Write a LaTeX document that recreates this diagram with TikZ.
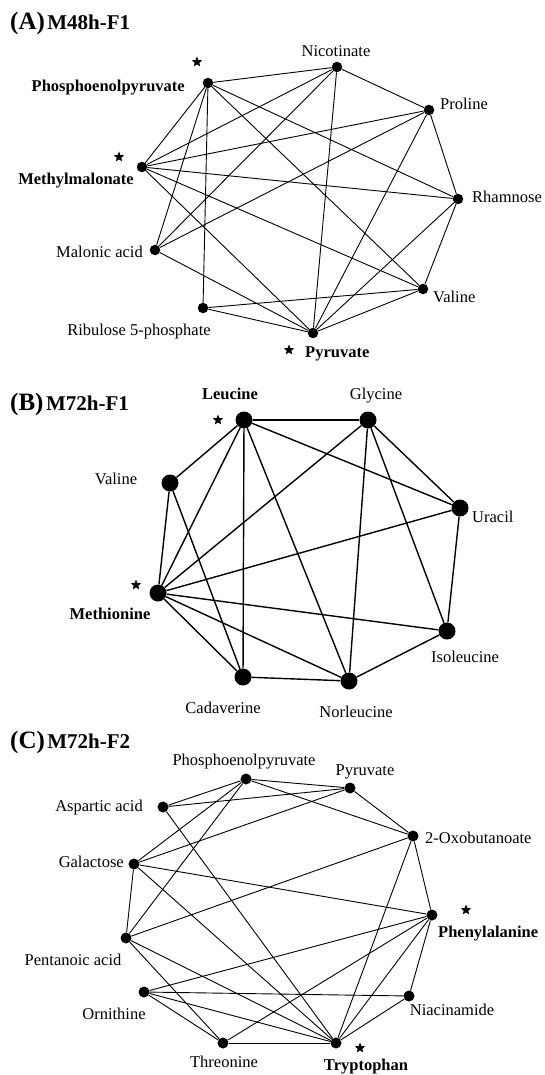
\documentclass[tikz,border=0pt]{standalone}
\usepackage{fontspec}
\setmainfont{Liberation Serif}
\usetikzlibrary{shapes.geometric}
\tikzset{
  dotA/.style={circle,fill=black,draw=none,minimum size=10.5pt,inner sep=0pt},
  dotB/.style={circle,fill=black,draw=none,minimum size=17pt,inner sep=0pt},
  dotC/.style={circle,fill=black,draw=none,minimum size=11pt,inner sep=0pt},
  lab/.style={inner sep=0pt,font=\fontsize{16.5}{18}\selectfont},
  blab/.style={inner sep=0pt,font=\fontsize{16.5}{18}\selectfont\bfseries},
  ttl/.style={inner sep=0pt,anchor=base west,font=\bfseries},
  starmark/.style={star,star points=5,star point ratio=2.3,fill=black,draw=none,minimum size=11pt,inner sep=0pt},
  edgeA/.style={line width=0.9pt},
  edgeB/.style={line width=1.4pt},
  edgeC/.style={line width=0.9pt}
}
\newcommand{\bigp}[1]{{\fontsize{25}{27}\selectfont #1}}
\newcommand{\smallt}[1]{{\fontsize{21}{23}\selectfont #1}}
\begin{document}
\begin{tikzpicture}[x=1pt,y=-1pt]
\useasboundingbox[fill=white] (0,0) rectangle (544,1075);

% ---------------- Panel A ----------------
\node[ttl] (tA) at (10,30) {\bigp{(A)}\kern2.5pt\smallt{M48h-F1}};
\node[dotA] (anic) at (337,67) {};
\node[dotA] (apep) at (208,83) {};
\node[dotA] (apro) at (429,110) {};
\node[dotA] (amm)  at (142,167) {};
\node[dotA] (arha) at (458,199) {};
\node[dotA] (amal) at (155,250) {};
\node[dotA] (aval) at (423,289) {};
\node[dotA] (arib) at (203,308) {};
\node[dotA] (apyr) at (313,333) {};

\node[lab,anchor=base] (lanic) at (336,57) {Nicotinate};
\node[blab,anchor=base east] (lapep) at (185,92) {Phosphoenolpyruvate};
\node[lab,anchor=base west] (lapro) at (440,110) {Proline};
\node[blab,anchor=base east] (lamm) at (134,185) {Methylmalonate};
\node[lab,anchor=base west] (larha) at (472,203) {Rhamnose};
\node[lab,anchor=base east] (lamal) at (143,258) {Malonic acid};
\node[lab,anchor=base west] (laval) at (433,302) {Valine};
\node[lab,anchor=base] (larib) at (139,335) {Ribulose 5-phosphate};
\node[blab,anchor=base west] (lapyr) at (305,357) {Pyruvate};
\node[starmark] (sapep) at (197,62) {};
\node[starmark] (samm) at (119,157) {};
\node[starmark] (sapyr) at (289,350) {};

\foreach \u/\v in {apep/anic, anic/apro, anic/amm, anic/amal, anic/apyr,
  apro/amm, apro/amal, apro/apyr, apro/arha, apep/amm, apep/amal, apep/arib,
  apep/arha, apep/aval, amm/arha, amm/aval, amm/apyr, arha/aval, arha/apyr,
  amal/apyr, aval/arib, aval/apyr, arib/apyr}
  \draw[edgeA] (\u) -- (\v);

% ---------------- Panel B ----------------
\node[ttl] (tB) at (10,410) {\bigp{(B)}\kern2.5pt\smallt{M72h-F1}};
\node[dotB] (bleu) at (244,420) {};
\node[dotB] (bgly) at (368,420) {};
\node[dotB] (bval) at (170,483) {};
\node[dotB] (bura) at (460,508) {};
\node[dotB] (bmet) at (158,593) {};
\node[dotB] (biso) at (447,631) {};
\node[dotB] (bcad) at (243,677) {};
\node[dotB] (bnor) at (349,681) {};

\node[blab,anchor=base] (lbleu) at (230,399) {Leucine};
\node[lab,anchor=base] (lbgly) at (376,399) {Glycine};
\node[lab,anchor=base] (lbval) at (116,484) {Valine};
\node[lab,anchor=base west] (lbura) at (472,522) {Uracil};
\node[blab,anchor=base] (lbmet) at (110,619) {Methionine};
\node[lab,anchor=base] (lbiso) at (465,662) {Isoleucine};
\node[lab,anchor=base] (lbcad) at (223,713) {Cadaverine};
\node[lab,anchor=base] (lbnor) at (356,717) {Norleucine};
\node[starmark] (sbleu) at (218,420) {};
\node[starmark] (sbmet) at (136,585) {};

\foreach \u/\v in {bleu/bgly, bleu/bval, bleu/bura, bleu/bmet, bleu/bcad, bleu/bnor,
  bgly/bmet, bgly/bura, bgly/bnor, bgly/biso, bval/bmet, bval/bcad, bura/bmet,
  bura/biso, bmet/biso, bmet/bcad, bmet/bnor, bcad/bnor, bnor/biso}
  \draw[edgeB] (\u) -- (\v);

% ---------------- Panel C ----------------
\node[ttl] (tC) at (10,748) {\bigp{(C)}\kern2.5pt\smallt{M72h-F2}};
\node[dotC] (cpep) at (246,779) {};
\node[dotC] (cpyr) at (350,788) {};
\node[dotC] (casp) at (163,807) {};
\node[dotC] (coxo) at (413,836) {};
\node[dotC] (cgal) at (134,864) {};
\node[dotC] (cphe) at (432,915) {};
\node[dotC] (cpen) at (126,938) {};
\node[dotC] (corn) at (144,992) {};
\node[dotC] (cnia) at (409,996) {};
\node[dotC] (cthr) at (223,1043) {};
\node[dotC] (ctrp) at (336,1043) {};

\node[lab,anchor=base] (lcpep) at (244,765) {Phosphoenolpyruvate};
\node[lab,anchor=base] (lcpyr) at (365,775) {Pyruvate};
\node[lab,anchor=base east] (lcasp) at (143,811) {Aspartic acid};
\node[lab,anchor=base west] (lcoxo) at (425,843) {2-Oxobutanoate};
\node[lab,anchor=base east] (lcgal) at (124,867) {Galactose};
\node[blab,anchor=base west] (lcphe) at (438,937) {Phenylalanine};
\node[lab,anchor=base] (lcpen) at (73,965) {Pentanoic acid};
\node[lab,anchor=base] (lcorn) at (114,1019) {Ornithine};
\node[lab,anchor=base] (lcnia) at (452,1015) {Niacinamide};
\node[lab,anchor=base] (lcthr) at (224,1067) {Threonine};
\node[blab,anchor=base] (lctrp) at (366,1070) {Tryptophan};
\node[starmark] (scphe) at (466,910) {};
\node[starmark] (sctrp) at (360,1048) {};

\foreach \u/\v in {cpep/cpyr, cpep/casp, cpep/coxo, cpep/cgal, cpep/cpen,
  cpyr/casp, cpyr/cgal, cpyr/coxo, casp/ctrp, coxo/cpen, coxo/cphe, coxo/ctrp,
  cgal/cphe, cgal/cpen, cgal/ctrp, cphe/corn, cphe/cthr, cphe/ctrp, cphe/cnia,
  cpen/cthr, cpen/ctrp, corn/cnia, corn/cthr, corn/ctrp, cnia/ctrp, cthr/ctrp}
  \draw[edgeC] (\u) -- (\v);
\end{tikzpicture}
\end{document}
